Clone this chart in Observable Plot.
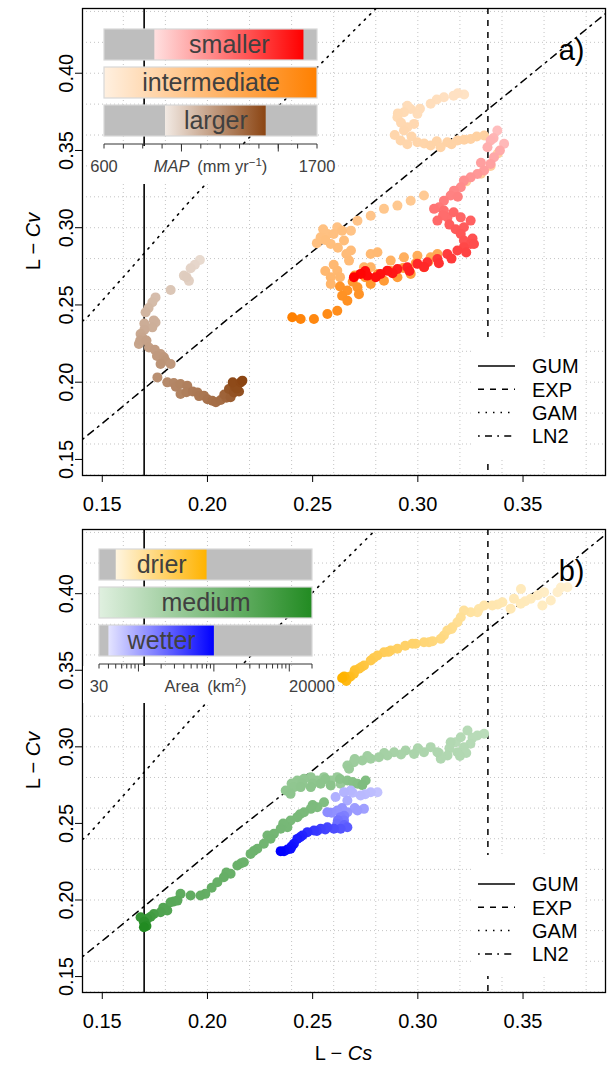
<!DOCTYPE html>
<html><head><meta charset="utf-8">
<script src="https://cdn.jsdelivr.net/npm/d3@7"></script>
<script src="https://cdn.jsdelivr.net/npm/@observablehq/plot@0.6"></script>
<style>
body{margin:0;background:#fff;}
#wrap{position:relative;width:608px;height:1065px;overflow:hidden;font-family:"Liberation Sans",Arial,sans-serif;}
#wrap > *{position:absolute;}
</style></head><body><div id="wrap"></div>
<script>
// ---------- data ----------
const xDomain = [0.1406, 0.3892];
const yDomain = [0.1396, 0.4419];
const xTicks = [0.15, 0.20, 0.25, 0.30, 0.35];
const yTicks = [0.15, 0.20, 0.25, 0.30, 0.35, 0.40];
const xGrid = [0.16, 0.18, 0.20, 0.22, 0.24, 0.26, 0.28, 0.30, 0.32, 0.34, 0.36, 0.38];
const yGrid = [0.14, 0.16, 0.18, 0.20, 0.22, 0.24, 0.26, 0.28, 0.30, 0.32, 0.34, 0.36, 0.38, 0.40, 0.42, 0.44];
const gumCs = 0.1699;
const expCs = 0.3333;
const gamLine = [[0.1406,0.2395],[0.1429,0.2420],[0.1642,0.2745],[0.1904,0.3154],[0.2345,0.3797],[0.2633,0.4190],[0.2801,0.4419]];
const ln2Line = [[0.1406,0.1630],[0.1516,0.1751],[0.2126,0.2442],[0.2348,0.2679],[0.3473,0.3920],[0.3892,0.4386]];
const distNames = ["GUM", "EXP", "GAM", "LN2"];

// panel a  [L-Cs, L-Cv, position on colour ramp]
const ptsLarger = [
 [0.1964,0.2791,0.10],[0.1940,0.2760,0.12],[0.1920,0.2737,0.14],[0.1912,0.2656,0.16],[0.1888,0.2690,0.17],
 [0.1900,0.2680,0.18],[0.1825,0.2597,0.22],[0.1753,0.2549,0.27],[0.1738,0.2517,0.28],[0.1720,0.2480,0.30],
 [0.1706,0.2452,0.32],[0.1753,0.2387,0.34],[0.1745,0.2400,0.35],[0.1738,0.2355,0.36],[0.1700,0.2380,0.37],
 [0.1700,0.2340,0.38],[0.1682,0.2312,0.40],[0.1690,0.2290,0.41],[0.1674,0.2247,0.42],[0.1680,0.2270,0.43],
 [0.1710,0.2270,0.44],[0.1722,0.2225,0.45],[0.1750,0.2210,0.47],[0.1777,0.2183,0.48],[0.1760,0.2170,0.49],
 [0.1793,0.2161,0.50],[0.1800,0.2140,0.51],[0.1777,0.2118,0.52],[0.1825,0.2118,0.50],[0.1762,0.2031,0.55],
 [0.1809,0.1999,0.58],[0.1840,0.1995,0.60],[0.1850,0.1970,0.61],[0.1872,0.1988,0.62],[0.1904,0.1977,0.64],
 [0.1872,0.1924,0.62],[0.1900,0.1935,0.65],[0.1930,0.1940,0.67],[0.1952,0.1934,0.68],[0.1960,0.1910,0.69],
 [0.1983,0.1913,0.70],[0.2000,0.1890,0.72],[0.2023,0.1880,0.74],[0.2040,0.1870,0.75],[0.2063,0.1885,0.76],
 [0.2090,0.1900,0.80],[0.2080,0.1920,0.82],[0.2110,0.1902,0.84],[0.2102,0.1956,0.90],[0.2126,0.1934,0.92],
 [0.2150,0.1940,0.93],[0.2130,0.1970,0.95],[0.2140,0.1960,0.96],[0.2120,0.2000,0.97],[0.2158,0.1999,0.98],
 [0.2166,0.2010,1.00]
];
const ptsIntermediate = [
 [0.3220,0.3862,0.12],[0.3190,0.3870,0.13],[0.3170,0.3855,0.13],[0.3124,0.3845,0.14],[0.3090,0.3830,0.15],
 [0.3061,0.3802,0.16],[0.3010,0.3770,0.17],[0.2998,0.3737,0.17],[0.2966,0.3769,0.18],[0.2950,0.3790,0.17],
 [0.2934,0.3747,0.19],[0.2905,0.3740,0.20],[0.2903,0.3715,0.20],[0.2982,0.3672,0.21],[0.2920,0.3680,0.21],
 [0.2950,0.3650,0.21],[0.2934,0.3629,0.22],[0.2890,0.3600,0.23],[0.2970,0.3590,0.23],[0.2918,0.3564,0.23],
 [0.2950,0.3540,0.23],[0.2998,0.3553,0.24],[0.3030,0.3545,0.24],[0.3061,0.3532,0.25],[0.3090,0.3560,0.25],
 [0.3108,0.3521,0.25],[0.3140,0.3553,0.26],[0.3160,0.3540,0.26],[0.3188,0.3564,0.26],[0.3220,0.3570,0.27],
 [0.3251,0.3575,0.27],[0.3280,0.3590,0.28],[0.3315,0.3597,0.28],
 [0.3380,0.3480,0.29],[0.3346,0.3400,0.30],[0.3300,0.3350,0.31],[0.3230,0.3300,0.32],[0.3170,0.3230,0.33],
 [0.3029,0.3208,0.34],[0.2966,0.3175,0.35],[0.2903,0.3143,0.36],[0.2839,0.3122,0.37],[0.2776,0.3078,0.38],
 [0.2713,0.3045,0.39],[0.2682,0.2981,0.40],[0.2617,0.3003,0.41],[0.2570,0.2960,0.42],[0.2550,0.2990,0.42],
 [0.2538,0.2938,0.43],[0.2600,0.2960,0.43],[0.2520,0.2900,0.43],[0.2586,0.2895,0.44],[0.2640,0.2980,0.44],
 [0.2560,0.2920,0.44],[0.2649,0.2917,0.45],[0.2620,0.2870,0.45],[0.2682,0.2852,0.46],[0.2660,0.2830,0.46],
 [0.2673,0.2787,0.47],[0.2776,0.2830,0.48],[0.2808,0.2841,0.49],[0.2600,0.2760,0.49],[0.2617,0.2722,0.50],
 [0.2560,0.2720,0.50],[0.2586,0.2679,0.51],[0.2630,0.2680,0.51],[0.2586,0.2636,0.52],[0.2744,0.2744,0.53],
 [0.2776,0.2744,0.54],[0.2871,0.2787,0.56],[0.2934,0.2808,0.58],[0.2998,0.2819,0.60],[0.3061,0.2808,0.62],
 [0.3093,0.2830,0.63],[0.3050,0.2780,0.66],[0.2990,0.2770,0.69],[0.3029,0.2744,0.70],[0.2930,0.2740,0.71],
 [0.2966,0.2701,0.72],[0.2870,0.2720,0.73],[0.2903,0.2679,0.74],[0.2810,0.2700,0.75],[0.2839,0.2657,0.76],
 [0.2700,0.2690,0.76],[0.2750,0.2680,0.77],[0.2776,0.2636,0.78],[0.2690,0.2650,0.79],[0.2713,0.2614,0.80],
 [0.2630,0.2620,0.81],[0.2665,0.2593,0.82],[0.2720,0.2570,0.83],[0.2640,0.2560,0.84],[0.2665,0.2528,0.85],
 [0.2617,0.2463,0.88],[0.2570,0.2442,0.90],[0.2506,0.2409,0.93],[0.2443,0.2409,0.96],[0.2403,0.2420,1.00]
];
const ptsSmaller = [
 [0.3378,0.3629,0.15],[0.3360,0.3580,0.19],[0.3410,0.3543,0.18],[0.3346,0.3564,0.20],[0.3331,0.3521,0.22],
 [0.3390,0.3500,0.24],[0.3362,0.3456,0.25],[0.3346,0.3413,0.28],[0.3300,0.3420,0.29],[0.3315,0.3370,0.30],
 [0.3283,0.3348,0.32],[0.3251,0.3326,0.34],[0.3219,0.3305,0.36],[0.3204,0.3262,0.38],[0.3172,0.3240,0.40],
 [0.3156,0.3208,0.42],[0.3190,0.3200,0.43],[0.3124,0.3175,0.44],[0.3101,0.3132,0.46],[0.3077,0.3122,0.48],
 [0.3124,0.3111,0.50],[0.3141,0.3067,0.52],[0.3120,0.3080,0.52],[0.3093,0.3046,0.53],[0.3170,0.3100,0.54],
 [0.3204,0.3067,0.55],[0.3251,0.3046,0.57],[0.3150,0.3020,0.58],[0.3219,0.3003,0.59],[0.3180,0.2990,0.60],
 [0.3204,0.2960,0.61],[0.3219,0.2917,0.63],[0.3260,0.2930,0.64],[0.3251,0.2895,0.65],[0.3267,0.2895,0.66],
 [0.3219,0.2873,0.68],[0.3188,0.2852,0.70],[0.3230,0.2840,0.70],[0.3140,0.2830,0.73],[0.3160,0.2800,0.74],
 [0.3093,0.2798,0.76],[0.3100,0.2770,0.78],[0.3045,0.2776,0.79],[0.2998,0.2766,0.82],[0.3030,0.2745,0.82],
 [0.2950,0.2744,0.85],[0.2960,0.2720,0.86],[0.2903,0.2733,0.88],[0.2880,0.2705,0.90],[0.2855,0.2722,0.91],
 [0.2823,0.2701,0.93],[0.2800,0.2680,0.94],[0.2750,0.2720,0.95],[0.2760,0.2690,0.96],[0.2728,0.2701,0.98],
 [0.2696,0.2679,1.00]
];
// panel b
const ptsDrier = [
 [0.3711,0.4042,0.08],[0.3680,0.4040,0.09],[0.3664,0.4010,0.10],[0.3600,0.4010,0.12],[0.3632,0.3955,0.13],
 [0.3570,0.3990,0.13],[0.3592,0.3923,0.14],[0.3537,0.3967,0.15],[0.3490,0.4030,0.16],[0.3510,0.3950,0.16],
 [0.3489,0.3934,0.17],[0.3457,0.3967,0.18],[0.3441,0.3901,0.19],[0.3402,0.3944,0.20],[0.3380,0.3930,0.21],
 [0.3354,0.3923,0.22],[0.3315,0.3923,0.24],[0.3290,0.3900,0.25],[0.3283,0.3879,0.26],[0.3251,0.3879,0.28],
 [0.3219,0.3890,0.30],[0.3204,0.3846,0.32],[0.3188,0.3814,0.34],[0.3164,0.3781,0.36],[0.3160,0.3770,0.37],
 [0.3140,0.3760,0.38],[0.3124,0.3727,0.40],[0.3109,0.3705,0.42],[0.3070,0.3690,0.44],[0.3053,0.3683,0.45],
 [0.3029,0.3683,0.47],[0.2990,0.3673,0.50],[0.2974,0.3673,0.52],[0.2940,0.3660,0.54],[0.2903,0.3640,0.56],
 [0.2871,0.3629,0.58],[0.2860,0.3620,0.59],[0.2839,0.3618,0.60],[0.2808,0.3596,0.63],[0.2790,0.3580,0.64],
 [0.2776,0.3564,0.66],[0.2744,0.3531,0.70],[0.2730,0.3520,0.72],[0.2720,0.3510,0.74],[0.2700,0.3500,0.78],
 [0.2696,0.3477,0.80],[0.2680,0.3460,0.84],[0.2673,0.3455,0.86],[0.2660,0.3430,0.90],[0.2657,0.3444,0.92],
 [0.2650,0.3460,0.96],[0.2640,0.3450,1.00]
];
const ptsMedium = [
 [0.3315,0.3085,0.20],[0.3283,0.3074,0.21],[0.3260,0.3060,0.21],[0.3236,0.3107,0.22],[0.3250,0.3020,0.22],
 [0.3180,0.3030,0.22],[0.3204,0.3063,0.23],[0.3219,0.2998,0.23],[0.3230,0.2960,0.23],[0.3188,0.2965,0.24],
 [0.3156,0.3030,0.24],[0.3200,0.2940,0.24],[0.3150,0.2990,0.24],[0.3141,0.2943,0.25],[0.3109,0.2922,0.25],
 [0.3100,0.2960,0.25],[0.3093,0.2965,0.26],[0.3061,0.2998,0.26],[0.3029,0.2965,0.27],[0.3000,0.2990,0.27],
 [0.2982,0.2954,0.28],[0.2942,0.2976,0.29],[0.2920,0.2950,0.29],[0.2887,0.2965,0.30],[0.2855,0.2943,0.31],
 [0.2840,0.2960,0.31],[0.2815,0.2932,0.32],[0.2776,0.2922,0.33],[0.2760,0.2940,0.33],[0.2736,0.2911,0.34],
 [0.2696,0.2900,0.35],[0.2700,0.2920,0.35],[0.2665,0.2878,0.36],[0.2673,0.2857,0.37],[0.2633,0.2759,0.38],
 [0.2617,0.2802,0.38],[0.2586,0.2780,0.39],[0.2554,0.2802,0.39],[0.2522,0.2780,0.40],[0.2491,0.2802,0.40],
 [0.2400,0.2760,0.41],[0.2459,0.2791,0.41],[0.2427,0.2780,0.41],[0.2411,0.2737,0.42],[0.2450,0.2760,0.42],
 [0.2372,0.2715,0.42],[0.2395,0.2693,0.43],[0.2500,0.2760,0.43],[0.2443,0.2737,0.43],[0.2491,0.2737,0.44],
 [0.2560,0.2790,0.44],[0.2538,0.2759,0.44],[0.2586,0.2748,0.45],[0.2630,0.2790,0.45],[0.2665,0.2780,0.46],
 [0.2690,0.2770,0.47],[0.2713,0.2759,0.48],[0.2752,0.2780,0.50],[0.2736,0.2750,0.51],[0.2554,0.2638,0.50],
 [0.2522,0.2606,0.51],[0.2500,0.2620,0.52],[0.2491,0.2595,0.52],[0.2459,0.2573,0.53],[0.2440,0.2560,0.53],
 [0.2427,0.2541,0.54],[0.2395,0.2519,0.54],[0.2380,0.2475,0.55],[0.2360,0.2500,0.55],[0.2348,0.2465,0.56],
 [0.2316,0.2432,0.57],[0.2285,0.2421,0.57],[0.2300,0.2400,0.58],[0.2268,0.2367,0.58],[0.2237,0.2334,0.59],
 [0.2220,0.2320,0.60],[0.2205,0.2301,0.60],[0.2173,0.2247,0.61],[0.2160,0.2240,0.61],[0.2142,0.2225,0.62],
 [0.2110,0.2171,0.63],[0.2090,0.2180,0.63],[0.2078,0.2149,0.64],[0.2047,0.2116,0.64],[0.2020,0.2080,0.65],
 [0.1990,0.2040,0.65],[0.1967,0.2029,0.66],[0.1920,0.2029,0.67],[0.1872,0.2040,0.68],[0.1857,0.1996,0.70],
 [0.1840,0.1990,0.70],[0.1825,0.1985,0.71],[0.1809,0.1931,0.74],[0.1790,0.1950,0.74],[0.1777,0.1920,0.76],
 [0.1745,0.1909,0.80],[0.1730,0.1890,0.83],[0.1714,0.1877,0.86],[0.1682,0.1887,0.90],[0.1700,0.1860,0.93],
 [0.1698,0.1855,0.95],[0.1710,0.1830,0.97],[0.1698,0.1822,1.00]
];
const ptsWetter = [
 [0.2808,0.2704,0.15],[0.2776,0.2704,0.17],[0.2750,0.2690,0.18],[0.2728,0.2683,0.19],[0.2690,0.2700,0.19],
 [0.2681,0.2715,0.20],[0.2649,0.2704,0.21],[0.2609,0.2672,0.23],[0.2665,0.2650,0.25],[0.2744,0.2595,0.30],
 [0.2700,0.2600,0.31],[0.2713,0.2584,0.32],[0.2665,0.2573,0.34],[0.2640,0.2600,0.35],[0.2617,0.2584,0.36],
 [0.2590,0.2570,0.37],[0.2570,0.2573,0.38],[0.2650,0.2550,0.44],[0.2633,0.2541,0.45],[0.2649,0.2519,0.48],
 [0.2620,0.2520,0.50],[0.2617,0.2497,0.52],[0.2650,0.2490,0.56],[0.2665,0.2475,0.60],[0.2633,0.2465,0.63],
 [0.2601,0.2465,0.66],[0.2570,0.2475,0.69],[0.2560,0.2460,0.70],[0.2538,0.2465,0.72],[0.2520,0.2450,0.74],
 [0.2506,0.2454,0.76],[0.2475,0.2443,0.80],[0.2451,0.2421,0.84],[0.2440,0.2410,0.86],[0.2427,0.2399,0.88],
 [0.2411,0.2367,0.91],[0.2400,0.2350,0.93],[0.2395,0.2334,0.94],[0.2380,0.2330,0.95],[0.2364,0.2319,0.97],
 [0.2348,0.2319,1.00]
];

// inset legends
const mapDomain = [600, 1700];
const mapTicks = [600,700,800,900,1000,1100,1200,1300,1400,1500,1600,1700];
const mapMajor = [1000, 1500];
const mapRows = [
 {name:"smaller", from:860, to:1630, lo:"#FFE0E0", hi:"#FF0000"},
 {name:"intermediate", from:600, to:1700, lo:"#FFF0E0", hi:"#FF8000"},
 {name:"larger", from:915, to:1435, lo:"#F2EAE4", hi:"#8B4513"}
];
const areaDomain = [30, 20000];
const areaTicks = [30,40,50,60,70,80,90,200,300,400,500,600,700,800,900,2000,3000,4000,5000,6000,7000,8000,9000,20000];
const areaMajor = [100, 1000, 10000];
const areaRows = [
 {name:"drier", from:50, to:800, lo:"#FFF5E0", hi:"#FFB300"},
 {name:"medium", from:30, to:20000, lo:"#E0F0E0", hi:"#228B22"},
 {name:"wetter", from:40, to:1000, lo:"#E4E4FF", hi:"#0000FF"}
];

// ---------- drawing ----------
const FONT = '"Liberation Sans", Arial, Helvetica, sans-serif';
const wrap = document.getElementById("wrap");

function dots(pts, lo, hi) {
  const c = d3.interpolateRgb(lo, hi);
  return Plot.dot(pts, {x: d => d[0], y: d => d[1], r: 5, fill: d => c(d[2]), stroke: "none"});
}

function panel(groups, label, h, mb) {
  return Plot.plot({
    width: 608, height: h, marginLeft: 82, marginRight: 3, marginTop: 8, marginBottom: mb,
    style: {fontFamily: FONT, fontSize: "20px", background: "transparent", color: "#000", overflow: "visible"},
    x: {domain: xDomain, label: null},
    y: {domain: yDomain, label: null},
    color: {type: "identity"},
    marks: [
      Plot.ruleX(xGrid, {stroke: "#c4c4c4", strokeDasharray: "1,3"}),
      Plot.ruleY(yGrid, {stroke: "#c4c4c4", strokeDasharray: "1,3"}),
      Plot.ruleX([gumCs], {stroke: "#000", strokeWidth: 1.6}),
      Plot.ruleX([expCs], {stroke: "#000", strokeWidth: 1.5, strokeDasharray: "6,6"}),
      Plot.line(gamLine, {x: d => d[0], y: d => d[1], stroke: "#000", strokeWidth: 1.6, strokeDasharray: "1.5,6", clip: true}),
      Plot.line(ln2Line, {x: d => d[0], y: d => d[1], stroke: "#000", strokeWidth: 1.5, strokeDasharray: "1.75,5.25,7,5.25", clip: true}),
      ...groups.map(g => dots(g.pts, g.lo, g.hi)),
      Plot.frame({stroke: "#000", strokeWidth: 1.3}),
      Plot.axisX({ticks: xTicks, tickSize: 7, tickPadding: 14, tickFormat: d3.format(".2f"), label: null}),
      Plot.axisY({ticks: yTicks, tickSize: 7, tickFormat: () => "", label: null}),
      Plot.text(yTicks, {y: d => d, text: d => d3.format(".2f")(d), frameAnchor: "left", dx: -16, rotate: -90,
                         textAnchor: "middle", lineAnchor: "middle"}),
      Plot.text([label], {text: d => d, frameAnchor: "top-right", dx: -21, dy: 31, textAnchor: "end", lineAnchor: "top", fontSize: 29})
    ]
  });
}

function inset(rows, domain, type, minor, major, id, titleParts) {
  const mid = r => type === "log" ? Math.sqrt(r.from * r.to) : (r.from + r.to) / 2;
  return Plot.plot({
    width: 255, height: 200, marginLeft: 20, marginRight: 22, marginTop: 21, marginBottom: 56,
    style: {fontFamily: FONT, fontSize: "16.5px", background: "transparent", color: "#404040", overflow: "visible"},
    x: {type, domain, label: null, axis: null},
    y: {type: "band", domain: rows.map(r => r.name), padding: 0.18, label: null, axis: null},
    marks: [
      () => {
        const defs = d3.create("svg:defs");
        rows.forEach((r, i) => {
          const g = defs.append("linearGradient").attr("id", id + i);
          g.append("stop").attr("offset", "0%").attr("stop-color", r.lo);
          g.append("stop").attr("offset", "100%").attr("stop-color", r.hi);
        });
        return defs.node();
      },
      Plot.barX(rows, {x1: domain[0], x2: domain[1], y: "name", fill: "#bebebe"}),
      Plot.barX(rows, {x1: "from", x2: "to", y: "name", fill: (r, i) => `url(#${id}${i})`}),
      Plot.barX(rows, {x1: domain[0], x2: domain[1], y: "name", fill: "none", stroke: "#d8d8d8", strokeWidth: 1.2}),
      Plot.text(rows, {x: mid, y: "name", text: "name", fontSize: 25, fill: "#404040"}),
      (index, scales, values, dims) => {
        const yb = dims.height - dims.marginBottom;
        const g = d3.create("svg:g");
        g.append("line").attr("x1", scales.x(domain[0])).attr("x2", scales.x(domain[1]))
          .attr("y1", yb).attr("y2", yb).attr("stroke", "#333").attr("stroke-width", 1);
        minor.forEach(v => g.append("line").attr("x1", scales.x(v)).attr("x2", scales.x(v)).attr("y1", yb).attr("y2", yb + 4.5).attr("stroke", "#333"));
        major.forEach(v => g.append("line").attr("x1", scales.x(v)).attr("x2", scales.x(v)).attr("y1", yb).attr("y2", yb + 7.5).attr("stroke", "#333"));
        [domain[0], domain[1]].forEach(v => g.append("text").attr("x", scales.x(v)).attr("y", yb + 28)
          .attr("text-anchor", "middle").attr("fill", "#404040").text(String(v)));
        const t = g.append("text").attr("x", (dims.marginLeft + dims.width - dims.marginRight) / 2).attr("y", yb + 28)
          .attr("text-anchor", "middle").attr("fill", "#404040");
        titleParts.forEach(p => {
          const s = t.append("tspan").text(p.t);
          if (p.italic) s.attr("font-style", "italic");
          if (p.sup) s.attr("font-size", "11.5px").attr("baseline-shift", "super");
        });
        return g.node();
      }
    ]
  });
}

function place(el, left, top) { el.style.left = left + "px"; el.style.top = top + "px"; wrap.appendChild(el); return el; }

const plotA = panel([
  {pts: ptsIntermediate, lo: mapRows[1].lo, hi: mapRows[1].hi},
  {pts: ptsSmaller, lo: mapRows[0].lo, hi: mapRows[0].hi},
  {pts: ptsLarger, lo: mapRows[2].lo, hi: mapRows[2].hi}
], "a)", 521, 46);
place(plotA, 0, 0);
const plotB = panel([
  {pts: ptsDrier, lo: areaRows[0].lo, hi: areaRows[0].hi},
  {pts: ptsMedium, lo: areaRows[1].lo, hi: areaRows[1].hi},
  {pts: ptsWetter, lo: areaRows[2].lo, hi: areaRows[2].hi}
], "b)", 544, 73);
place(plotB, 0, 521);

function whiteBox(left, top, w, h) {
  const d = document.createElement("div");
  d.style.width = w + "px"; d.style.height = h + "px"; d.style.background = "#fff";
  place(d, left, top);
}
whiteBox(88, 146, 249, 38);
whiteBox(83, 666, 249, 37);

place(inset(mapRows, mapDomain, "linear", mapTicks, mapMajor, "gmap",
  [{t: "MAP", italic: true}, {t: "\u2009 (mm yr"}, {t: "\u22121", sup: true}, {t: ")"}]), 84, 0);
place(inset(areaRows, areaDomain, "log", areaTicks, areaMajor, "garea",
  [{t: "Area\u2009 (km"}, {t: "2", sup: true}, {t: ")"}]), 79, 520);

const dashes = [null, "6,6", "1.5,6", "1.75,5.25,7,5.25"];
function legend(top) {
  const svg = d3.create("svg").attr("width", 111).attr("height", 121)
    .style("font-family", FONT).style("font-size", "20px");
  svg.append("rect").attr("width", 111).attr("height", 121).attr("fill", "#fff");
  distNames.forEach((n, i) => {
    const y = 29 + i * 23.3;
    const l = svg.append("line").attr("x1", 6).attr("x2", 43).attr("y1", y).attr("y2", y)
      .attr("stroke", "#000").attr("stroke-width", 1.5);
    if (dashes[i]) l.attr("stroke-dasharray", dashes[i]);
    svg.append("text").attr("x", 60).attr("y", y).attr("dy", "0.36em").text(n);
  });
  place(svg.node(), 472, top);
}
legend(337);
legend(855);

function axisTitles() {
  const svg = d3.create("svg").attr("width", 608).attr("height", 1065)
    .style("font-family", FONT).style("font-size", "20px").style("pointer-events", "none");
  [241.5, 760.5].forEach(cy => {
    const t = svg.append("text").attr("transform", `translate(40,${cy}) rotate(-90)`).attr("text-anchor", "middle");
    t.append("tspan").text("L \u2212 ");
    t.append("tspan").attr("font-style", "italic").text("Cv");
  });
  const t = svg.append("text").attr("x", 343.5).attr("y", 1060).attr("text-anchor", "middle");
  t.append("tspan").text("L \u2212 ");
  t.append("tspan").attr("font-style", "italic").text("Cs");
  place(svg.node(), 0, 0);
}
axisTitles();
</script></body></html>
